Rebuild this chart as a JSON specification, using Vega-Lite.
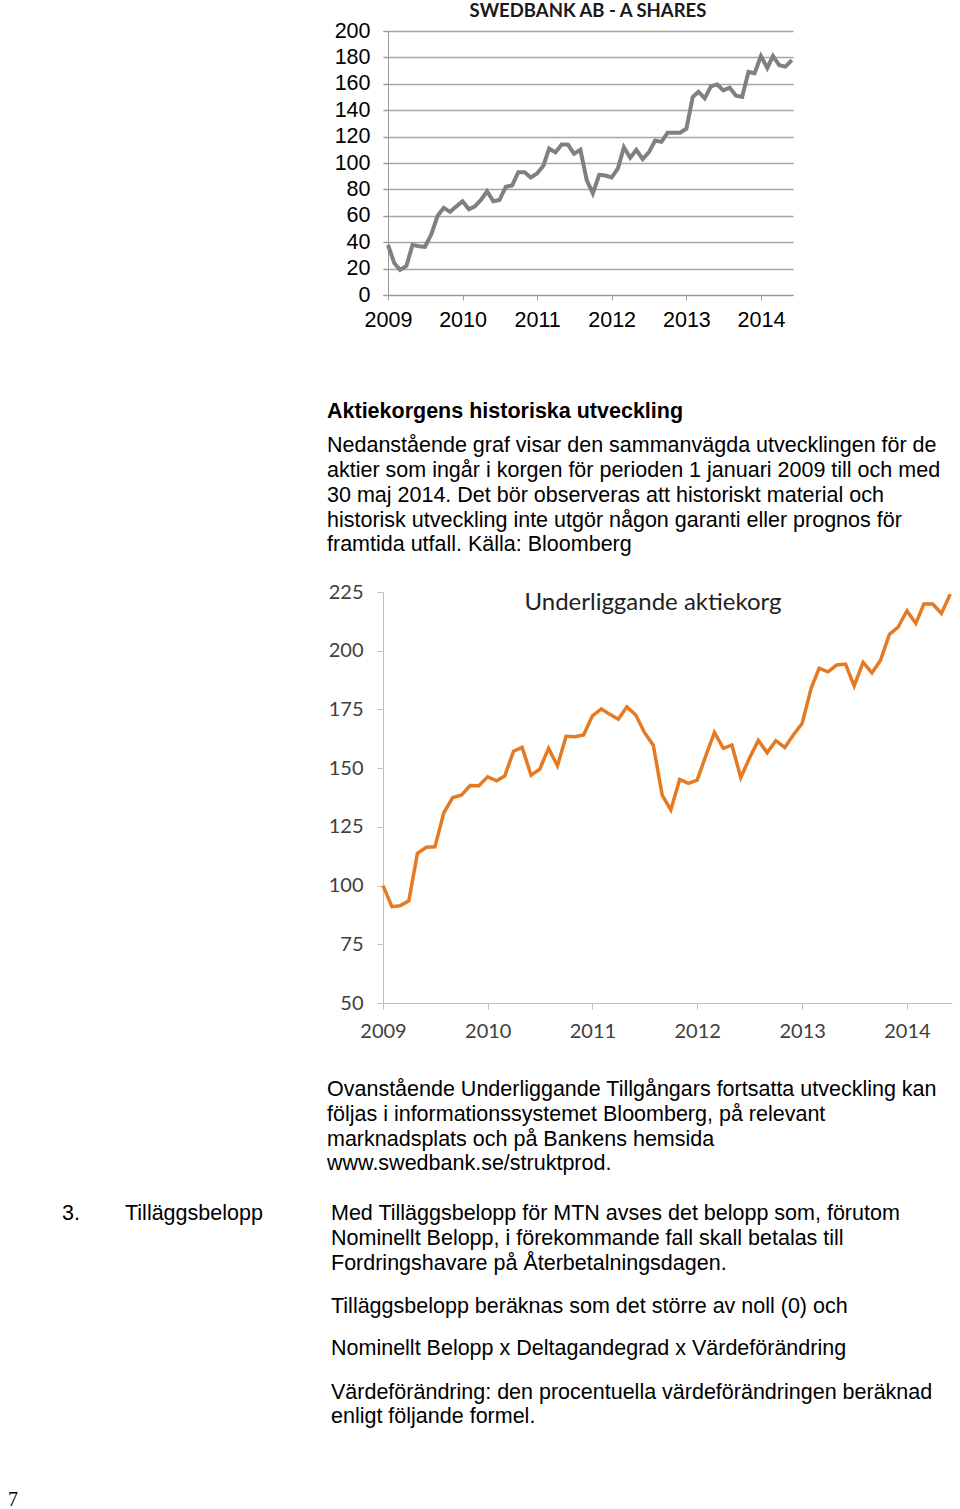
{
  "$schema": "https://vega.github.io/schema/vega-lite/v6.json",
  "background": "white",
  "padding": {"left": 8, "top": 1, "right": 0, "bottom": 0},
  "config": {"view": {"stroke": null}},
  "bounds": "flush",
  "spacing": 297,
  "datasets": {
    "prices": [
      {"date": "2009-01-01", "swedbank": 38, "korg": 100},
      {"date": "2009-02-01", "swedbank": 24, "korg": 91},
      {"date": "2009-03-01", "swedbank": 19, "korg": 91.4},
      {"date": "2009-04-01", "swedbank": 22, "korg": 93.5},
      {"date": "2009-05-01", "swedbank": 38, "korg": 113.7},
      {"date": "2009-06-01", "swedbank": 37, "korg": 116.3},
      {"date": "2009-07-01", "swedbank": 36.5, "korg": 116.5},
      {"date": "2009-08-01", "swedbank": 46, "korg": 131},
      {"date": "2009-09-01", "swedbank": 60, "korg": 137.5},
      {"date": "2009-10-01", "swedbank": 66, "korg": 138.5},
      {"date": "2009-11-01", "swedbank": 63, "korg": 142.6},
      {"date": "2009-12-01", "swedbank": 67, "korg": 142.5},
      {"date": "2010-01-01", "swedbank": 71, "korg": 146.3},
      {"date": "2010-02-01", "swedbank": 65, "korg": 144.6},
      {"date": "2010-03-01", "swedbank": 67, "korg": 146.6},
      {"date": "2010-04-01", "swedbank": 72, "korg": 157.2},
      {"date": "2010-05-01", "swedbank": 78.6, "korg": 158.8},
      {"date": "2010-06-01", "swedbank": 71, "korg": 147},
      {"date": "2010-07-01", "swedbank": 72, "korg": 149.5},
      {"date": "2010-08-01", "swedbank": 82, "korg": 158.4},
      {"date": "2010-09-01", "swedbank": 83, "korg": 151},
      {"date": "2010-10-01", "swedbank": 93, "korg": 163.6},
      {"date": "2010-11-01", "swedbank": 93, "korg": 163.4},
      {"date": "2010-12-01", "swedbank": 89, "korg": 164.1},
      {"date": "2011-01-01", "swedbank": 92, "korg": 172.3},
      {"date": "2011-02-01", "swedbank": 98, "korg": 175.2},
      {"date": "2011-03-01", "swedbank": 111, "korg": 173},
      {"date": "2011-04-01", "swedbank": 108, "korg": 170.8},
      {"date": "2011-05-01", "swedbank": 114, "korg": 176.1},
      {"date": "2011-06-01", "swedbank": 114, "korg": 172.6},
      {"date": "2011-07-01", "swedbank": 107, "korg": 165.2},
      {"date": "2011-08-01", "swedbank": 110, "korg": 159.8},
      {"date": "2011-09-01", "swedbank": 87, "korg": 138.5},
      {"date": "2011-10-01", "swedbank": 77, "korg": 132.2},
      {"date": "2011-11-01", "swedbank": 91, "korg": 145.2},
      {"date": "2011-12-01", "swedbank": 90.5, "korg": 143.5},
      {"date": "2012-01-01", "swedbank": 89, "korg": 144.9},
      {"date": "2012-02-01", "swedbank": 96, "korg": 155.6},
      {"date": "2012-03-01", "swedbank": 112, "korg": 165.2},
      {"date": "2012-04-01", "swedbank": 104, "korg": 158.4},
      {"date": "2012-05-01", "swedbank": 110, "korg": 159.8},
      {"date": "2012-06-01", "swedbank": 103, "korg": 146},
      {"date": "2012-07-01", "swedbank": 108, "korg": 154.2},
      {"date": "2012-08-01", "swedbank": 117, "korg": 161.8},
      {"date": "2012-09-01", "swedbank": 116, "korg": 156.6},
      {"date": "2012-10-01", "swedbank": 123, "korg": 161.7},
      {"date": "2012-11-01", "swedbank": 123, "korg": 158.8},
      {"date": "2012-12-01", "swedbank": 123, "korg": 164.1},
      {"date": "2013-01-01", "swedbank": 126, "korg": 169.1},
      {"date": "2013-02-01", "swedbank": 150, "korg": 184},
      {"date": "2013-03-01", "swedbank": 154, "korg": 192.5},
      {"date": "2013-04-01", "swedbank": 149, "korg": 191},
      {"date": "2013-05-01", "swedbank": 158, "korg": 193.9},
      {"date": "2013-06-01", "swedbank": 159.5, "korg": 194.3},
      {"date": "2013-07-01", "swedbank": 155, "korg": 185},
      {"date": "2013-08-01", "swedbank": 157, "korg": 195},
      {"date": "2013-09-01", "swedbank": 151, "korg": 190.6},
      {"date": "2013-10-01", "swedbank": 150, "korg": 196},
      {"date": "2013-11-01", "swedbank": 169, "korg": 207},
      {"date": "2013-12-01", "swedbank": 168, "korg": 210},
      {"date": "2014-01-01", "swedbank": 181, "korg": 217},
      {"date": "2014-02-01", "swedbank": 172, "korg": 211.6},
      {"date": "2014-03-01", "swedbank": 181, "korg": 219.9},
      {"date": "2014-04-01", "swedbank": 174, "korg": 219.9},
      {"date": "2014-05-01", "swedbank": 173, "korg": 215.9},
      {"date": "2014-06-01", "swedbank": 178, "korg": 224.1}
    ],
    "notes": [
      {"col": 3, "line": 0, "text": "Ovanstående Underliggande Tillgångars fortsatta utveckling kan\nföljas i informationssystemet Bloomberg, på relevant\nmarknadsplats och på Bankens hemsida\nwww.swedbank.se/struktprod."},
      {"col": 1, "line": 5, "text": "3."},
      {"col": 2, "line": 5, "text": "Tilläggsbelopp"},
      {"col": 4, "line": 5, "text": "Med Tilläggsbelopp för MTN avses det belopp som, förutom\nNominellt Belopp, i förekommande fall skall betalas till\nFordringshavare på Återbetalningsdagen."},
      {"col": 4, "line": 8.75, "text": "Tilläggsbelopp beräknas som det större av noll (0) och"},
      {"col": 4, "line": 10.45, "text": "Nominellt Belopp x Deltagandegrad x Värdeförändring"},
      {"col": 4, "line": 12.2, "text": "Värdeförändring:  den  procentuella  värdeförändringen  beräknad\nenligt följande formel."}
    ],
    "page": [
      {"col": 0, "line": 16.55, "text": "7"}
    ],
    "chartlabel": [
      {"label": "Underliggande aktiekorg"}
    ]
  },
  "vconcat": [
    {
      "width": 410,
      "height": 264,
      "title": {
        "text": "SWEDBANK AB - A SHARES",
        "font": "Lato",
        "fontSize": 18.5,
        "fontWeight": "bold",
        "color": "#1a1a1a",
        "anchor": "middle",
        "offset": 0
      },
      "data": {"name": "prices"},
      "mark": {"type": "line", "color": "#808080", "strokeWidth": 4},
      "encoding": {
        "x": {
          "field": "date",
          "type": "temporal",
          "scale": {
            "domain": [
              {"year": 2008, "month": 12, "date": 7, "hours": 12},
              {"year": 2014, "month": 6, "date": 7}
            ],
            "nice": false
          },
          "axis": {
            "format": "%Y",
            "tickCount": {"interval": "year", "step": 1},
            "labelFont": "Liberation Sans",
            "labelFontSize": 21.5,
            "labelColor": "#000000",
            "domainColor": "#999999",
            "tickColor": "#999999",
            "tickSize": 5,
            "labelPadding": 9,
            "grid": false,
            "title": null,
            "labelFlush": false,
            "labelOverlap": false
          }
        },
        "y": {
          "field": "swedbank",
          "type": "quantitative",
          "scale": {"domain": [0, 200], "nice": false},
          "axis": {
            "values": [0, 20, 40, 60, 80, 100, 120, 140, 160, 180, 200],
            "grid": true,
            "gridColor": "#a6a6a6",
            "gridWidth": 1.5,
            "domainColor": "#999999",
            "tickColor": "#999999",
            "tickSize": 5,
            "offset": -5,
            "labelFont": "Liberation Sans",
            "labelFontSize": 21.5,
            "labelColor": "#000000",
            "labelPadding": 13,
            "labelFlush": false,
            "title": null
          }
        }
      }
    },
    {
      "width": 569,
      "height": 411,
      "title": {
        "text": "Aktiekorgens historiska utveckling",
        "subtitle": [
          "Nedanstående graf visar den sammanvägda utvecklingen för de",
          "aktier som ingår i korgen för perioden 1 januari 2009 till och med",
          "30 maj 2014. Det bör observeras att historiskt material och",
          "historisk utveckling inte utgör någon garanti eller prognos för",
          "framtida utfall. Källa: Bloomberg"
        ],
        "anchor": "start",
        "frame": "group",
        "dx": -56,
        "font": "Liberation Sans",
        "fontSize": 21.5,
        "fontWeight": "bold",
        "color": "#000000",
        "subtitleFont": "Liberation Sans",
        "subtitleFontSize": 21.5,
        "subtitleColor": "#000000",
        "subtitleLineHeight": 24.8,
        "subtitlePadding": 13,
        "offset": 26
      },
      "layer": [
        {
          "layer": [
            {
              "data": {"name": "prices"},
              "mark": {"type": "line", "color": "#E57A25", "strokeWidth": 3.5},
              "encoding": {
                "x": {
                  "field": "date",
                  "type": "temporal",
                  "scale": {
                    "domain": [
                      {"year": 2009, "month": 1, "date": 1},
                      {"year": 2014, "month": 6, "date": 7}
                    ],
                    "nice": false
                  },
                  "axis": {
                    "format": "%Y",
                    "tickCount": {"interval": "year", "step": 1},
                    "labelFont": "Lato",
                    "labelFontSize": 20,
                    "labelColor": "#404040",
                    "domainColor": "#bfbfbf",
                    "tickColor": "#bfbfbf",
                    "tickSize": 6,
                    "labelPadding": 12,
                    "grid": false,
                    "title": null,
                    "labelFlush": false,
                    "labelOverlap": false
                  }
                },
                "y": {
                  "field": "korg",
                  "type": "quantitative",
                  "scale": {"domain": [50, 225], "nice": false, "zero": false},
                  "axis": {
                    "values": [50, 75, 100, 125, 150, 175, 200, 225],
                    "grid": false,
                    "domainColor": "#bfbfbf",
                    "tickColor": "#bfbfbf",
                    "tickSize": 6,
                    "labelFont": "Lato",
                    "labelFontSize": 20,
                    "labelColor": "#404040",
                    "labelPadding": 14,
                    "labelFlush": false,
                    "title": null
                  }
                }
              }
            },
            {
              "data": {"name": "chartlabel"},
              "mark": {"type": "text", "font": "Lato", "fontSize": 24, "color": "#222222", "align": "center", "baseline": "middle"},
              "encoding": {
                "x": {"datum": {"year": 2011, "month": 7, "date": 31}, "type": "temporal"},
                "y": {"datum": 220.3, "type": "quantitative"},
                "text": {"field": "label", "type": "nominal"}
              }
            }
          ]
        },
        {
          "layer": [
            {
              "data": {"name": "notes"},
              "mark": {"type": "text", "font": "Liberation Sans", "fontSize": 21.5, "color": "#000000", "align": "left", "baseline": "alphabetic", "lineBreak": "\n", "lineHeight": 24.8},
              "encoding": {
                "x": {"field": "col", "type": "quantitative", "scale": {"domain": [0, 1, 2, 3, 4], "range": [-375, -321, -258, -56, -52], "nice": false, "zero": false}, "axis": null},
                "y": {"field": "line", "type": "quantitative", "scale": {"domain": [0, 10], "range": [504, 752], "nice": false, "zero": false}, "axis": null},
                "text": {"field": "text", "type": "nominal"}
              }
            },
            {
              "data": {"name": "page"},
              "mark": {"type": "text", "font": "Liberation Serif", "fontSize": 20, "color": "#000000", "align": "left", "baseline": "alphabetic"},
              "encoding": {
                "x": {"field": "col", "type": "quantitative", "axis": null},
                "y": {"field": "line", "type": "quantitative", "axis": null},
                "text": {"field": "text", "type": "nominal"}
              }
            }
          ]
        }
      ],
      "resolve": {"scale": {"x": "independent", "y": "independent"}}
    }
  ]
}
